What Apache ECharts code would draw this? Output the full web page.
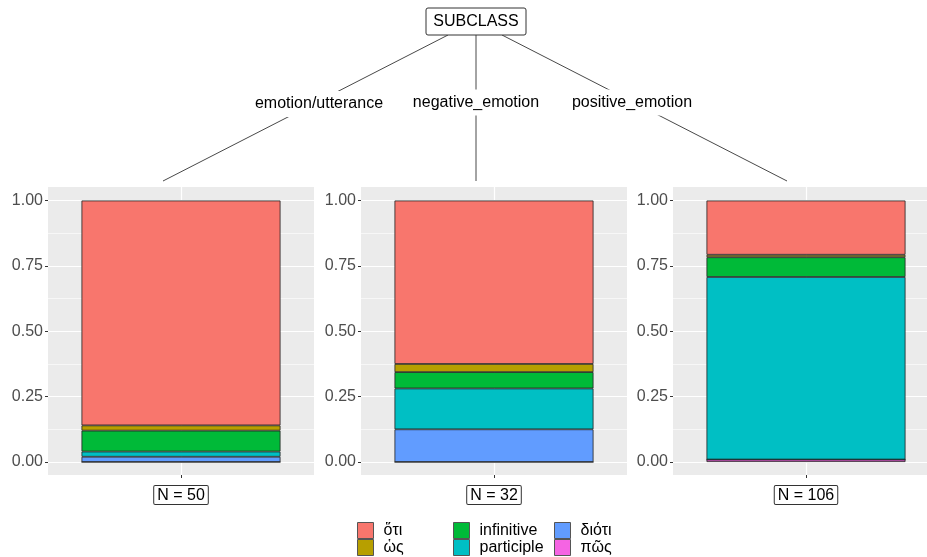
<!DOCTYPE html>
<html>
<head>
<meta charset="utf-8">
<script src="https://cdn.jsdelivr.net/npm/echarts@6/dist/echarts.min.js"></script>
<style>
html,body{margin:0;padding:0;background:#fff;}
#chart{width:927px;height:557px;}
</style>
</head>
<body>
<div id="chart"></div>
<script>
// ---- data ----
const panelNames = ['emotion/utterance', 'negative_emotion', 'positive_emotion'];
const panelN = [50, 32, 106];
const categories = ['ὅτι', 'ὡς', 'infinitive', 'participle', 'διότι', 'πῶς'];
// counts per panel (emotion/utterance, negative_emotion, positive_emotion)
const countOti = [43, 20, 22];
const countHos = [1, 1, 1];
const countInfinitive = [4, 2, 8];
const countParticiple = [1, 5, 74];
const countDioti = [1, 4, 0];
const countPos = [0, 0, 1];
const yTicks = [0, 0.25, 0.5, 0.75, 1];

// ---- styles ----
const colors = ['#F8766D', '#B79F00', '#00BA38', '#00BFC4', '#619CFF', '#F564E3'];
const FONT = '"Liberation Sans", Arial, sans-serif';
const countsByCat = [countOti, countHos, countInfinitive, countParticiple, countDioti, countPos];

const panelLeft = [48, 361, 673];
const panelWidth = 266;
const bgTop = 187, bgBottom = 475;
const dataTop = 200.5, dataBottom = 462;

const grids = [], xAxes = [], yAxes = [], series = [];
panelNames.forEach((p, i) => {
  // background grid (expanded range)
  grids.push({left: panelLeft[i], width: panelWidth, top: bgTop, height: bgBottom - bgTop,
    show: true, backgroundColor: '#EBEBEB', borderWidth: 0, outerBoundsMode: 'none', containLabel: false});
  // data grid
  grids.push({left: panelLeft[i], width: panelWidth, top: dataTop, height: dataBottom - dataTop,
    show: false, outerBoundsMode: 'none', containLabel: false});
  const ga = 2 * i, gb = 2 * i + 1;
  xAxes.push({gridIndex: ga, type: 'value', min: 0, max: 2, interval: 1,
    axisLine: {show: false},
    axisTick: {show: true, length: 3, customValues: [1], lineStyle: {color: '#333', width: 1}},
    splitLine: {show: true, lineStyle: {color: '#fff', width: 1.2}},
    axisLabel: {show: true, customValues: [1], formatter: () => 'N = ' + panelN[i],
      margin: 11, color: '#000', fontSize: 16, fontFamily: FONT,
      backgroundColor: '#fff', borderColor: '#333', borderWidth: 1, borderRadius: 1,
      padding: [1, 3, 0, 3], lineHeight: 17}
  });
  yAxes.push({gridIndex: ga, type: 'value', min: 0, max: 1, show: false, splitLine: {show: false}});
  xAxes.push({gridIndex: gb, type: 'category', data: [p], show: false});
  yAxes.push({gridIndex: gb, type: 'value', min: 0, max: 1, interval: 0.25,
    axisLine: {show: false},
    axisTick: {show: true, length: 3, lineStyle: {color: '#333', width: 1}},
    axisLabel: {color: '#4D4D4D', fontSize: 16, fontFamily: FONT, margin: 5,
      formatter: v => v.toFixed(2)},
    splitLine: {show: true, lineStyle: {color: '#fff', width: 1.2}},
    minorTick: {show: false, splitNumber: 2},
    minorSplitLine: {show: true, lineStyle: {color: '#fff', width: 0.6}}
  });
  // stacked bars: bottom -> top is reverse of category order
  for (let c = categories.length - 1; c >= 0; c--) {
    series.push({
      name: categories[c], type: 'bar', stack: 'p' + i,
      xAxisIndex: gb, yAxisIndex: gb, barWidth: 199, z: 3,
      itemStyle: {color: colors[c], borderColor: '#222', borderWidth: 0.8},
      emphasis: {disabled: true},
      data: [countsByCat[c][i] / panelN[i]]
    });
  }
});

const legendCommon = {orient: 'vertical', top: 522, itemWidth: 16, itemHeight: 16, itemGap: 0,
  icon: 'rect', selectedMode: false, padding: 0, height: 40,
  itemStyle: {borderColor: '#555', borderWidth: 1},
  textStyle: {fontSize: 16, fontFamily: FONT, color: '#000', lineHeight: 16, padding: [0, 0, 0, 5]}};
const legends = [
  Object.assign({}, legendCommon, {left: 357, data: [categories[0], categories[1]]}),
  Object.assign({}, legendCommon, {left: 453, data: [categories[2], categories[3]]}),
  Object.assign({}, legendCommon, {left: 554, data: [categories[4], categories[5]]})
];

// ---- tree (decoration) ----
const lineStyle = {stroke: '#333', lineWidth: 0.9};
const edgeLabelStyle = {fontSize: 16, fontFamily: FONT, fill: '#000', align: 'center',
  verticalAlign: 'middle', backgroundColor: '#fff', padding: [5, 2, 5, 2]};
const graphic = [
  {type: 'line', shape: {x1: 448, y1: 35, x2: 163, y2: 181}, style: lineStyle, z: 1},
  {type: 'line', shape: {x1: 476, y1: 35, x2: 476, y2: 181}, style: lineStyle, z: 1},
  {type: 'line', shape: {x1: 502, y1: 35, x2: 787, y2: 181}, style: lineStyle, z: 1},
  {type: 'rect', shape: {x: 426, y: 8, width: 100, height: 27, r: 2},
    style: {fill: '#fff', stroke: '#333', lineWidth: 1}, z: 2},
  {type: 'text', x: 476, y: 22, style: {text: 'SUBCLASS', fontSize: 16, fontFamily: FONT,
    fill: '#000', align: 'center', verticalAlign: 'middle'}, z: 3},
  {type: 'text', x: 319, y: 104, style: Object.assign({text: panelNames[0]}, edgeLabelStyle), z: 3},
  {type: 'text', x: 476, y: 102.5, style: Object.assign({text: panelNames[1]}, edgeLabelStyle), z: 3},
  {type: 'text', x: 632, y: 102.5, style: Object.assign({text: panelNames[2]}, edgeLabelStyle), z: 3}
];

const chart = echarts.init(document.getElementById('chart'), null, {renderer: 'canvas'});
chart.setOption({
  animation: false,
  backgroundColor: '#fff',
  grid: grids, xAxis: xAxes, yAxis: yAxes, series: series,
  legend: legends,
  graphic: graphic
});
</script>
</body>
</html>
